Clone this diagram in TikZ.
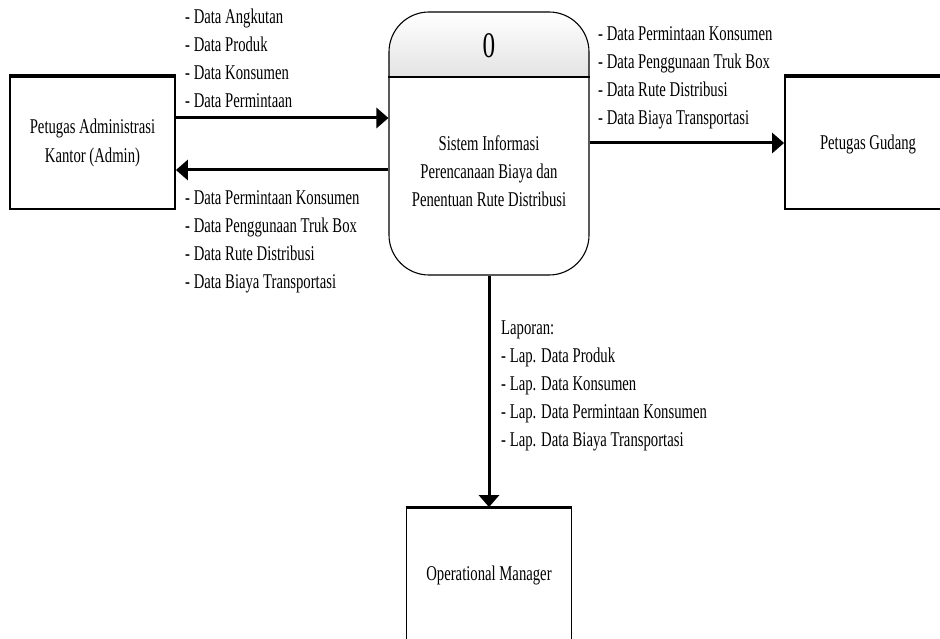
\documentclass[tikz,border=0pt]{standalone}
\usepackage{fontspec}
\setmainfont{Liberation Serif}
\newfontfamily\nf[FakeStretch=0.7]{Liberation Serif}
\usetikzlibrary{arrows.meta}
\tikzset{
  ent/.style={draw, line width=1.8pt, minimum width=165pt, minimum height=132pt, inner sep=0pt, align=center, font=\nf\fontsize{21}{29}\selectfont},
  flow/.style={line width=3pt, -{Triangle[length=12pt,width=20pt]}},
  lbl/.style={anchor=west, align=left, inner sep=0pt, font=\nf\fontsize{21}{28}\selectfont},
  topedge/.style={line width=3.2pt}
}
\begin{document}
\begin{tikzpicture}[x=1pt,y=-1pt]
\useasboundingbox (0,0) rectangle (940,639);
\clip (0,0) rectangle (940,639);
% process
\begin{scope}
\clip[rounded corners=40pt] (389,12) rectangle (589,275);
\shade[top color=white, bottom color=gray!22] (389,12) rectangle (589,77);
\end{scope}
\node[draw, line width=1.1pt, rounded corners=40pt, minimum width=200pt, minimum height=263pt, inner sep=0pt] (proc) at (489,143.5) {};
\coordinate (hdr) at (489,77);
\draw[line width=1.1pt] (proc.west |- hdr) -- (proc.east |- hdr);
\node[font=\nf\fontsize{36}{40}\selectfont, inner sep=0pt] (pnum) at (489,46) {0};
\node[align=center, inner sep=0pt, font=\nf\fontsize{21}{28}\selectfont] (ptxt) at (489,171) {Sistem Informasi\\Perencanaan Biaya dan\\Penentuan Rute Distribusi};
% entities
\node[ent] (admin) at (92.5,143) {Petugas Administrasi\\Kantor (Admin)};
\draw[topedge] (admin.north west) -- (admin.north east);
\node[ent] (gud) at (867.5,143) {};
\node[font=\nf\fontsize{21}{29}\selectfont, inner sep=0pt] (gudtxt) at (868,144) {Petugas Gudang};
\draw[topedge] (gud.north west) -- (gud.north east);
\node[ent] (om) at (489,574) {};
\node[font=\nf\fontsize{21}{29}\selectfont, inner sep=0pt] (omtxt) at (489,575) {Operational Manager};
\draw[topedge] (om.north west) -- (om.north east);
% flows
\coordinate (a1) at ([yshift=25pt]admin.east);
\draw[flow] (a1) -- (a1 -| proc.west);
\coordinate (a2) at ([yshift=-27pt]admin.east);
\draw[flow] (a2 -| proc.west) -- (a2);
\draw[flow] (proc.east |- gud.west) -- (gud.west);
\draw[flow] (proc.south) -- (om.north);
% labels
\node[lbl] (l1) at (185,58) {- Data Angkutan\\- Data Produk\\- Data Konsumen\\- Data Permintaan};
\node[lbl] (l2) at (185,241.5) {- Data Permintaan Konsumen\\- Data Penggunaan Truk Box\\- Data Rute Distribusi\\- Data Biaya Transportasi};
\node[lbl] (l3) at (598,78) {- Data Permintaan Konsumen\\- Data Penggunaan Truk Box\\- Data Rute Distribusi\\- Data Biaya Transportasi};
\node[lbl] (l4) at (501,385.5) {Laporan:\\- Lap. Data Produk\\- Lap. Data Konsumen\\- Lap. Data Permintaan Konsumen\\- Lap. Data Biaya Transportasi};
\end{tikzpicture}
\end{document}
